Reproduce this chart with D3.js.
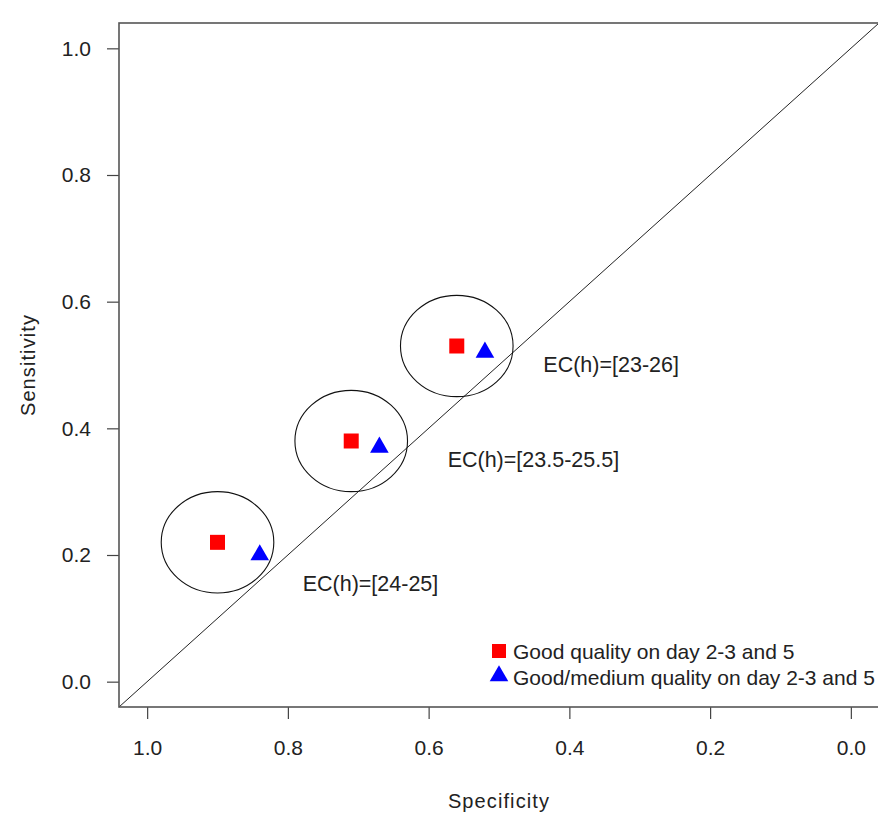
<!DOCTYPE html>
<html>
<head>
<meta charset="utf-8">
<script src="https://cdn.jsdelivr.net/npm/d3@7"></script>
<style>
  body { margin: 0; background: #fff; }
  svg { display: block; font-family: "Liberation Sans", Arial, sans-serif; }
  .tick text { font-size: 21px; fill: #222; }
  .tick line { stroke: #444; stroke-width: 1.2; }
</style>
</head>
<body>
<div id="chart"></div>
<script>
// points
const groups = ['EC(h)=[24-25]', 'EC(h)=[23.5-25.5]', 'EC(h)=[23-26]'];
const goodSpec = [0.90, 0.71, 0.56];
const goodSens = [0.22, 0.38, 0.53];
const medSpec = [0.84, 0.67, 0.52];
const medSens = [0.20, 0.37, 0.52];
const circleRadius = 0.08;
// label anchor (left, baseline) in data units
const labelSpec = [0.779, 0.573, 0.437];
const labelSens = [0.143, 0.339, 0.489];
const ticks = [0, 0.2, 0.4, 0.6, 0.8, 1.0];
const legendLabels = ['Good quality on day 2-3 and 5', 'Good/medium quality on day 2-3 and 5'];

const width = 878, height = 813;
const box = { left: 119, right: 879, top: 23, bottom: 707 };

const svg = d3.select('#chart')
    .append('svg')
    .attr('width', width)
    .attr('height', height);

const x = d3.scaleLinear().domain([1.04, -0.04]).range([box.left, box.right]);
const y = d3.scaleLinear().domain([-0.04, 1.04]).range([box.bottom, box.top]);

// diagonal reference line
svg.append('line')
    .attr('x1', x(1.04)).attr('y1', y(-0.04))
    .attr('x2', x(-0.04)).attr('y2', y(1.04))
    .attr('stroke', '#222')
    .attr('stroke-width', 1);

// axes
const xAxis = d3.axisBottom(x).tickValues(ticks).tickFormat(d3.format('.1f'))
    .tickSize(12).tickSizeOuter(0).tickPadding(21);
const yAxis = d3.axisLeft(y).tickValues(ticks).tickFormat(d3.format('.1f'))
    .tickSize(12).tickSizeOuter(0).tickPadding(16);

svg.append('g')
    .attr('transform', `translate(0,${box.bottom})`)
    .call(xAxis)
    .call(g => g.select('.domain').remove());

svg.append('g')
    .attr('transform', `translate(${box.left},0)`)
    .call(yAxis)
    .call(g => g.select('.domain').remove());

svg.selectAll('.tick text').attr('font-family', null);

// plot frame
svg.append('rect')
    .attr('x', box.left).attr('y', box.top)
    .attr('width', box.right - box.left)
    .attr('height', box.bottom - box.top)
    .attr('fill', 'none')
    .attr('stroke', '#555')
    .attr('stroke-width', 1.6);

// circles round each group
svg.selectAll('.group-circle')
    .data(groups)
    .enter()
    .append('ellipse')
    .attr('class', 'group-circle')
    .attr('cx', (d, i) => x(goodSpec[i]))
    .attr('cy', (d, i) => y(goodSens[i]))
    .attr('rx', Math.abs(x(0) - x(circleRadius)))
    .attr('ry', Math.abs(y(0) - y(circleRadius)))
    .attr('fill', 'none')
    .attr('stroke', '#111')
    .attr('stroke-width', 1.1);

const square = d3.symbol().type(d3.symbolSquare).size(225);
const triangle = d3.symbol().type(d3.symbolTriangle).size(150);

svg.selectAll('.good')
    .data(goodSpec)
    .enter()
    .append('path')
    .attr('class', 'good')
    .attr('d', square)
    .attr('transform', (d, i) => `translate(${x(d)},${y(goodSens[i])})`)
    .attr('fill', '#ff0000');

svg.selectAll('.med')
    .data(medSpec)
    .enter()
    .append('path')
    .attr('class', 'med')
    .attr('d', triangle)
    .attr('transform', (d, i) => `translate(${x(d)},${y(medSens[i])})`)
    .attr('fill', '#0000ff');

// group labels
svg.selectAll('.group-label')
    .data(groups)
    .enter()
    .append('text')
    .attr('class', 'group-label')
    .attr('x', (d, i) => x(labelSpec[i]))
    .attr('y', (d, i) => y(labelSens[i]))
    .attr('font-size', 21.5)
    .attr('fill', '#222')
    .text(d => d);

// legend
const legend = svg.append('g').attr('transform', 'translate(499,651)');
legend.append('path').attr('d', d3.symbol().type(d3.symbolSquare).size(196)).attr('fill', '#ff0000');
legend.append('path').attr('d', triangle).attr('transform', 'translate(0,25)').attr('fill', '#0000ff');
legend.selectAll('.legend-text')
    .data(legendLabels)
    .enter()
    .append('text')
    .attr('x', 14)
    .attr('y', (d, i) => i * 26)
    .attr('dy', '0.36em')
    .attr('font-size', 21)
    .attr('fill', '#222')
    .text(d => d);

// axis titles
svg.append('text')
    .attr('x', (box.left + box.right) / 2)
    .attr('y', 808)
    .attr('text-anchor', 'middle')
    .attr('font-size', 20)
    .attr('letter-spacing', 1.1)
    .attr('fill', '#222')
    .text('Specificity');

svg.append('text')
    .attr('transform', `translate(35,${(box.top + box.bottom) / 2}) rotate(-90)`)
    .attr('text-anchor', 'middle')
    .attr('font-size', 20)
    .attr('letter-spacing', 1.1)
    .attr('fill', '#222')
    .text('Sensitivity');
</script>
</body>
</html>
